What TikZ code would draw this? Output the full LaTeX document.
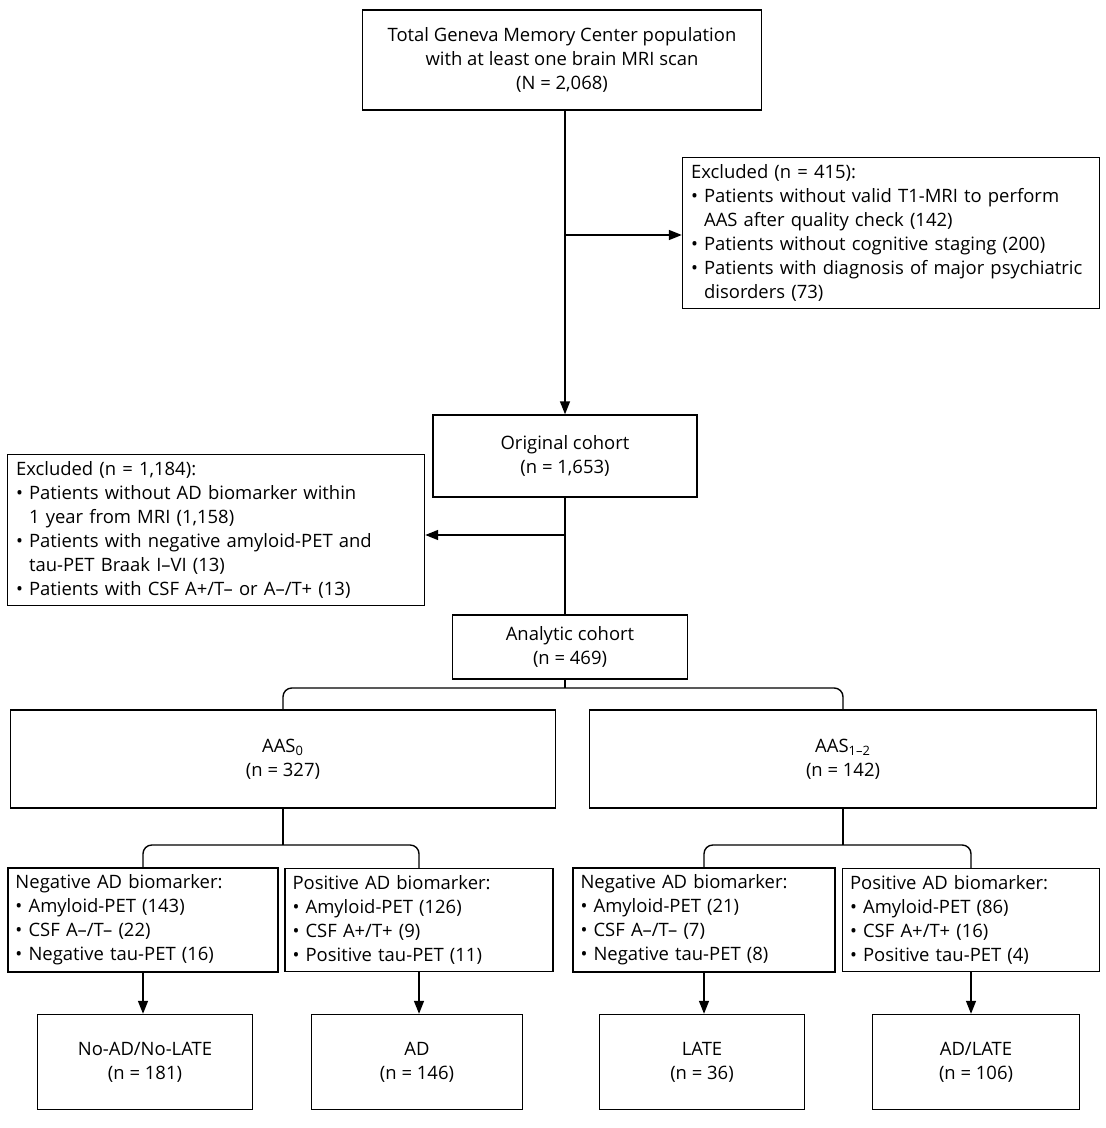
\documentclass[tikz,border=0pt]{standalone}
\usepackage{fontspec}
\setmainfont{Open Sans}
\usetikzlibrary{arrows.meta}

\begin{document}
\begin{tikzpicture}[x=0.02cm,y=-0.02cm,
	box/.style={draw,thick,inner sep=4pt,font=\fontsize{10.5}{13.6}\selectfont},
	arr/.style={-{Triangle[length=2.6mm,width=2mm]},thick}]
			\useasboundingbox (0,0) rectangle (1105,1128);

			\node[box,minimum width=399*0.02cm,minimum height=100*0.02cm,align=center] (total) at (562,60) {Total Geneva Memory Center population\\with at least one brain MRI scan\\(N = 2,068)};
			\node[box,minimum width=417*0.02cm,minimum height=146*0.02cm,align=left,text width=400*0.02cm] (exc1) at (891,233) {Excluded (n = 415):\\• Patients without valid T1-MRI to perform\\\phantom{• }AAS after quality check (142)\\• Patients without cognitive staging (200)\\• Patients with diagnosis of major psychiatric\\\phantom{• }disorders (73)};
			\node[box,minimum width=264*0.02cm,minimum height=82*0.02cm,align=center] (orig) at (565,456) {Original cohort\\(n = 1,653)};
			\node[box,minimum width=417*0.02cm,minimum height=150*0.02cm,align=left,text width=400*0.02cm] (exc2) at (216,530) {Excluded (n = 1,184):\\• Patients without AD biomarker within\\\phantom{• }1 year from MRI (1,158)\\• Patients with negative amyloid-PET and\\\phantom{• }tau-PET Braak I–VI (13)\\• Patients with CSF A+/T– or A–/T+ (13)};
			\node[box,minimum width=235*0.02cm,minimum height=64*0.02cm,align=center] (analytic) at (570,647) {Analytic cohort\\(n = 469)};

			\node[box,minimum width=545*0.02cm,minimum height=98*0.02cm,align=center] (aas0) at (283,759) {AAS\textsubscript{0}\\(n = 327)};
			\node[box,minimum width=507*0.02cm,minimum height=98*0.02cm,align=center] (aas12) at (843,759) {AAS\textsubscript{1–2}\\(n = 142)};

			\node[box,minimum width=270*0.02cm,minimum height=100*0.02cm,align=left,text width=255*0.02cm] (neg0) at (143,920) {Negative AD biomarker:\\• Amyloid-PET (143)\\• CSF A–/T– (22)\\• Negative tau-PET (16)};
			\node[box,minimum width=268*0.02cm,minimum height=100*0.02cm,align=left,text width=253*0.02cm] (pos0) at (419,920) {Positive AD biomarker:\\• Amyloid-PET (126)\\• CSF A+/T+ (9)\\• Positive tau-PET (11)};
			\node[box,minimum width=262*0.02cm,minimum height=100*0.02cm,align=left,text width=247*0.02cm] (neg12) at (704,920) {Negative AD biomarker:\\• Amyloid-PET (21)\\• CSF A–/T– (7)\\• Negative tau-PET (8)};
			\node[box,minimum width=257*0.02cm,minimum height=100*0.02cm,align=left,text width=242*0.02cm] (pos12) at (971,920) {Positive AD biomarker:\\• Amyloid-PET (86)\\• CSF A+/T+ (16)\\• Positive tau-PET (4)};

			\node[box,minimum width=215*0.02cm,minimum height=95*0.02cm,align=center] (noad) at (145,1062) {No-AD/No-LATE\\(n = 181)};
			\node[box,minimum width=211*0.02cm,minimum height=95*0.02cm,align=center] (ad) at (417,1062) {AD\\(n = 146)};
			\node[box,minimum width=205*0.02cm,minimum height=95*0.02cm,align=center] (late) at (702,1062) {LATE\\(n = 36)};
			\node[box,minimum width=207*0.02cm,minimum height=95*0.02cm,align=center] (adlate) at (976,1062) {AD/LATE\\(n = 106)};

			\coordinate (j1) at (565,235);
			\coordinate (j2) at (565,535);
			\coordinate (b1) at (565,688);
			\coordinate (b2) at (283,845);
			\coordinate (b3) at (843,845);

			\draw[arr] (total.south -| j1) -- (orig.north -| j1);
			\draw[arr] (j1) -- (exc1.west |- j1);
			\draw[thick] (orig.south -| j2) -- (analytic.north -| j2);
			\draw[arr] (j2) -- (exc2.east |- j2);

			\draw[thick] (analytic.south -| b1) -- (b1);
			\draw[thick,rounded corners=5pt] (aas0.north) |- (b1) -| (aas12.north);
			\draw[thick] (aas0.south) -- (b2);
			\draw[thick,rounded corners=5pt] (neg0.north) |- (b2) -| (pos0.north);
			\draw[thick] (aas12.south) -- (b3);
			\draw[thick,rounded corners=5pt] (neg12.north) |- (b3) -| (pos12.north);

			\draw[arr] (neg0.south) -- (neg0.south |- noad.north);
			\draw[arr] (pos0.south) -- (pos0.south |- ad.north);
			\draw[arr] (neg12.south) -- (neg12.south |- late.north);
			\draw[arr] (pos12.south) -- (pos12.south |- adlate.north);
		\end{tikzpicture}
\end{document}
